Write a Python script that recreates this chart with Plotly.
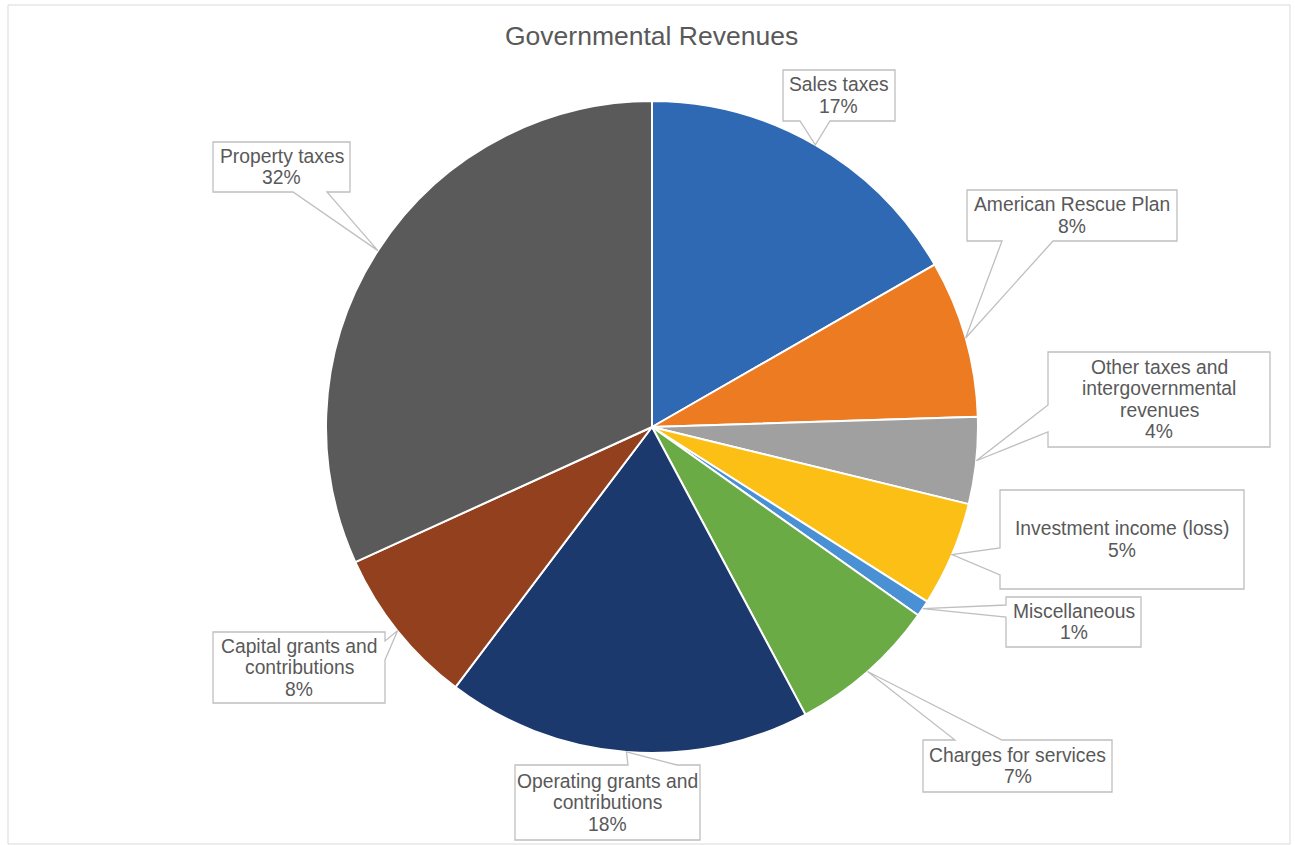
import math
import plotly.graph_objects as go

# ---------------- data ----------------
categories = [
    "Sales taxes",
    "American Rescue Plan",
    "Other taxes and<br>intergovernmental<br>revenues",
    "Investment income (loss)",
    "Miscellaneous",
    "Charges for services",
    "Operating grants and<br>contributions",
    "Capital grants and<br>contributions",
    "Property taxes",
]
values = [16.7, 7.8, 4.3, 5.2, 0.8, 7.4, 18.1, 7.9, 31.8]
title_text = "Governmental Revenues"

# ---------------- style / layout ----------------
W, H = 1295, 845
colors = ["#2F68B3", "#EC7B22", "#A0A0A0", "#FBBF15", "#4A90D4",
          "#6AAB45", "#1C396D", "#93401E", "#5A5A5A"]
CX, CY, R = 652, 427, 326          # pie centre / radius in pixels
TEXT_COLOR = "#595959"
BOX_LINE = "#BFBFBF"
FONT = "Liberation Sans, Arial, sans-serif"
LABEL_SIZE = 19.3
LINE_H = 21.5

# callout boxes: (x0, y0, x1, y1), side of the tail, two tail base points
callouts = [
    ((783, 70, 895, 121), "bottom", (800, 830)),
    ((967, 190, 1177, 241), "bottom", (1002, 1053)),
    ((1048, 352, 1270, 447), "left", (405, 432)),
    ((1000, 490, 1244, 589), "left", (548, 575)),
    ((1006, 597, 1141, 647), "left", (605, 617)),
    ((923, 740, 1112, 792), "top", (955, 1002)),
    ((515, 765, 700, 840), "top", (628, 677)),
    ((213, 632, 385, 703), "right", (641, 660)),
    ((213, 142, 350, 192), "bottom", (293, 327)),
]


def px(x):
    return x / W


def py(y):
    return 1 - y / H


fig = go.Figure()
fig.add_trace(go.Pie(
    labels=categories,
    values=values,
    marker=dict(colors=colors, line=dict(color="white", width=2)),
    sort=False,
    direction="clockwise",
    rotation=0,
    textinfo="none",
    hoverinfo="skip",
    showlegend=False,
    domain=dict(x=[px(CX - R), px(CX + R)], y=[py(CY + R), py(CY - R)]),
))

total = sum(values)
shapes = []
annotations = []

# outer chart border
shapes.append(dict(type="rect", xref="paper", yref="paper",
                   x0=px(8), x1=px(1290), y0=py(5), y1=py(844),
                   line=dict(color="#D9D9D9", width=1), fillcolor="rgba(0,0,0,0)",
                   layer="below"))

cum = 0.0
for i, (cat, v) in enumerate(zip(categories, values)):
    mid = (cum + v / 2) / total
    cum += v
    ang = 2 * math.pi * mid
    tipx = CX + R * math.sin(ang)
    tipy = CY - R * math.cos(ang)
    (x0, y0, x1, y1), side, (a, b) = callouts[i]
    # walk the box clockwise (on screen), inserting the tail
    if side == "top":
        pts = [(x0, y0), (a, y0), (tipx, tipy), (b, y0), (x1, y0), (x1, y1), (x0, y1)]
    elif side == "right":
        pts = [(x0, y0), (x1, y0), (x1, a), (tipx, tipy), (x1, b), (x1, y1), (x0, y1)]
    elif side == "bottom":
        pts = [(x0, y0), (x1, y0), (x1, y1), (b, y1), (tipx, tipy), (a, y1), (x0, y1)]
    else:  # left
        pts = [(x0, y0), (x1, y0), (x1, y1), (x0, y1), (x0, b), (tipx, tipy), (x0, a)]
    path = "M " + " L ".join(f"{px(x):.5f},{py(y):.5f}" for x, y in pts) + " Z"
    shapes.append(dict(type="path", xref="paper", yref="paper", path=path,
                       fillcolor="white", line=dict(color=BOX_LINE, width=1.3),
                       layer="above"))
    pct = f"{round(v / total * 100)}%"
    lines = cat.split("<br>") + [pct]
    ccx = (x0 + x1) / 2
    ccy = (y0 + y1) / 2
    n = len(lines)
    for k, line in enumerate(lines):
        ly = ccy + (k - (n - 1) / 2) * LINE_H
        annotations.append(dict(
            x=px(ccx), y=py(ly), xref="paper", yref="paper",
            text=line, showarrow=False, xanchor="center", yanchor="middle",
            font=dict(family=FONT, size=LABEL_SIZE, color=TEXT_COLOR),
        ))

annotations.append(dict(
    x=px(651), y=py(36), xref="paper", yref="paper", text=title_text,
    showarrow=False, xanchor="center", yanchor="middle",
    font=dict(family=FONT, size=26.5, color=TEXT_COLOR),
))

fig.update_layout(
    width=W, height=H,
    margin=dict(l=0, r=0, t=0, b=0),
    paper_bgcolor="white",
    plot_bgcolor="white",
    shapes=shapes,
    annotations=annotations,
    font=dict(family=FONT, color=TEXT_COLOR),
)

fig.write_html("out.html")
